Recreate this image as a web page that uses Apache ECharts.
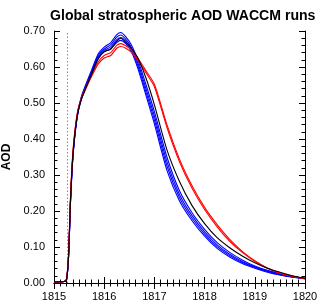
<!DOCTYPE html>
<html><head><meta charset="utf-8">
<script src="https://cdn.jsdelivr.net/npm/echarts@6/dist/echarts.min.js"></script>
<style>html,body{margin:0;padding:0;background:#fff}#c{width:320px;height:303px}</style>
</head><body><div id="c"></div>
<script>
var titleText = 'Global stratospheric AOD WACCM runs';
var yName = 'AOD';
var years = [1815.00,1815.20,1815.25,1815.29,1815.33,1815.38,1815.46,1815.54,1815.63,1815.75,1815.88,1816.00,1816.13,1816.25,1816.33,1816.42,1816.54,1816.67,1816.83,1817.00,1817.25,1817.50,1817.75,1818.00,1818.25,1818.50,1818.75,1819.00,1819.25,1819.50,1819.75,1820.00];
var blackRun = [0.003,0.004,0.010,0.075,0.235,0.362,0.462,0.508,0.540,0.580,0.622,0.643,0.650,0.672,0.680,0.670,0.652,0.625,0.570,0.495,0.370,0.282,0.215,0.165,0.126,0.098,0.075,0.056,0.041,0.030,0.020,0.013];
var blue1 = [0.003,0.004,0.010,0.075,0.232,0.360,0.464,0.515,0.550,0.592,0.636,0.655,0.668,0.690,0.696,0.686,0.662,0.620,0.552,0.476,0.350,0.256,0.195,0.149,0.112,0.085,0.064,0.047,0.035,0.026,0.018,0.013];
var blue2 = [0.003,0.004,0.010,0.074,0.230,0.358,0.462,0.512,0.547,0.588,0.632,0.650,0.662,0.683,0.689,0.679,0.655,0.611,0.541,0.464,0.337,0.246,0.187,0.142,0.106,0.080,0.060,0.045,0.033,0.024,0.017,0.013];
var blue3 = [0.003,0.004,0.010,0.073,0.229,0.357,0.460,0.510,0.545,0.585,0.628,0.646,0.656,0.676,0.682,0.673,0.649,0.603,0.531,0.453,0.325,0.237,0.180,0.136,0.101,0.076,0.057,0.043,0.032,0.023,0.017,0.012];
var blue4 = [0.003,0.004,0.010,0.072,0.228,0.355,0.458,0.508,0.542,0.582,0.624,0.642,0.650,0.668,0.674,0.666,0.643,0.596,0.522,0.442,0.313,0.228,0.173,0.130,0.096,0.072,0.054,0.041,0.030,0.022,0.016,0.012];
var red1 = [0.003,0.004,0.011,0.080,0.240,0.368,0.468,0.512,0.542,0.578,0.614,0.632,0.640,0.660,0.665,0.660,0.648,0.625,0.590,0.552,0.440,0.344,0.270,0.210,0.162,0.121,0.088,0.062,0.042,0.028,0.019,0.012];
var red2 = [0.003,0.004,0.011,0.082,0.243,0.370,0.468,0.510,0.538,0.574,0.608,0.625,0.632,0.652,0.657,0.653,0.641,0.619,0.584,0.545,0.432,0.337,0.263,0.204,0.156,0.116,0.085,0.060,0.041,0.027,0.018,0.012];
var eruptionX = [1815.27, 1815.27];
var eruptionY = [0, 0.70];

function pairs(xs, ys){ return xs.map(function(x,i){ return [x, ys[i]]; }); }
function run(name, ys, color){
  return {name:name, type:'line', data:pairs(years, ys), showSymbol:false, smooth:0.25,
    lineStyle:{color:color, width:1.1}, itemStyle:{color:color}, z:3};
}
var font = 'Liberation Sans, Arial, Helvetica, sans-serif';
var chart = echarts.init(document.getElementById('c'), null, {renderer:'canvas'});
var tickStyle = {show:true, inside:true, length:6, lineStyle:{color:'#000', width:1}};
var minorStyle = {show:true, splitNumber:8, length:3.5, lineStyle:{color:'#000', width:1}};
chart.setOption({
  animation:false,
  backgroundColor:'#fff',
  title:{text:titleText, left:45, top:4,
    textStyle:{fontFamily:font, fontWeight:'bold', fontSize:14.1, color:'#000'}},
  grid:{left:54, right:15, top:31, bottom:20, containLabel:false, outerBoundsMode:'none'},
  xAxis:[
    {type:'value', min:1815, max:1820, interval:1, position:'bottom',
     axisLine:{show:true, lineStyle:{color:'#000', width:1}},
     axisTick:tickStyle, minorTick:minorStyle, splitLine:{show:false},
     axisLabel:{margin:8, fontFamily:font, fontSize:11, color:'#000', formatter:function(v){return String(v);}}},
    {type:'value', min:1815, max:1820, interval:1, position:'top',
     axisLine:{show:true, lineStyle:{color:'#000', width:1}},
     axisTick:tickStyle, minorTick:minorStyle, splitLine:{show:false}, axisLabel:{show:false}}
  ],
  yAxis:[
    {type:'value', min:0, max:0.7, interval:0.1, position:'left',
     name:yName, nameLocation:'middle', nameGap:30, nameRotate:90,
     nameTextStyle:{fontFamily:font, fontWeight:'bold', fontSize:12, color:'#000'},
     axisLine:{show:true, lineStyle:{color:'#000', width:1}},
     axisTick:tickStyle, minorTick:{show:true, splitNumber:5, length:3.5, lineStyle:{color:'#000', width:1}},
     splitLine:{show:false},
     axisLabel:{margin:9, fontFamily:font, fontSize:11, color:'#000', formatter:function(v){return v.toFixed(2);}}},
    {type:'value', min:0, max:0.7, interval:0.1, position:'right',
     axisLine:{show:true, lineStyle:{color:'#000', width:1}},
     axisTick:tickStyle, minorTick:{show:true, splitNumber:5, length:3.5, lineStyle:{color:'#000', width:1}},
     splitLine:{show:false}, axisLabel:{show:false}}
  ],
  series:[
    {name:'eruption', type:'line', data:pairs(eruptionX, eruptionY), showSymbol:false,
     lineStyle:{color:'#888', width:1, type:[1.5,2]}, z:1},
    run('blue1', blue1, '#0000ff'),
    run('blue2', blue2, '#0000ff'),
    run('blue3', blue3, '#0000ff'),
    run('blue4', blue4, '#0000ff'),
    run('red1', red1, '#ff0000'),
    run('red2', red2, '#ff0000'),
    run('mean', blackRun, '#000000')
  ]
});
</script></body></html>
